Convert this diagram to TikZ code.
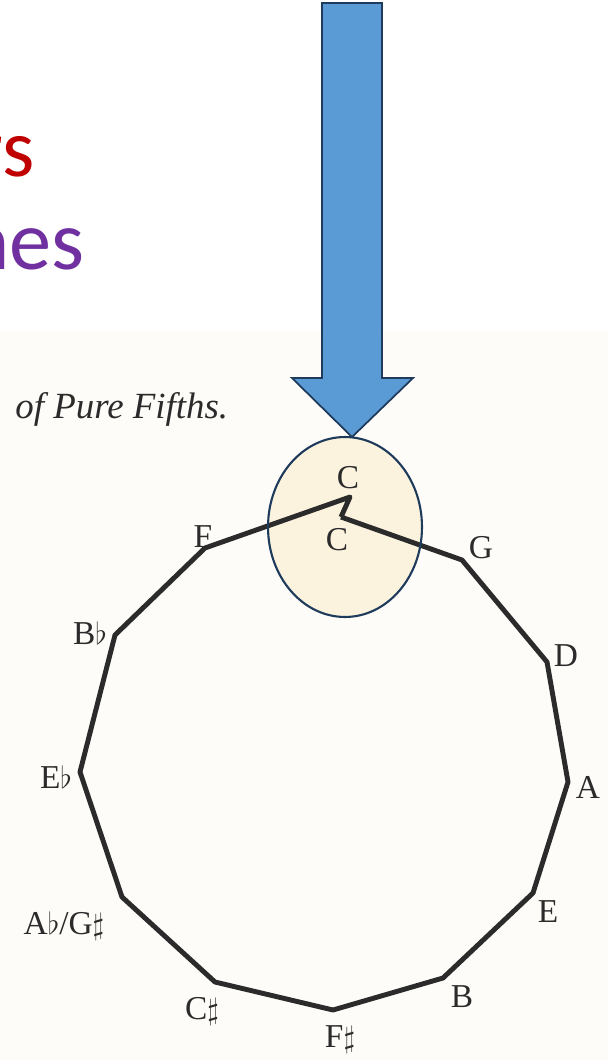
\documentclass[tikz,border=0pt]{standalone}
\usepackage{fontspec}
\setmainfont{Liberation Serif}
\newfontfamily\slidefont{Carlito}
\usetikzlibrary{shapes.geometric,positioning}

\definecolor{slidered}{HTML}{C00000}
\definecolor{slidepurple}{HTML}{7030A0}
\definecolor{arrowblue}{HTML}{5B9BD5}
\definecolor{navy}{HTML}{1F3B5C}
\definecolor{haze}{HTML}{FBF3DE}
\definecolor{scan}{HTML}{FDFCF9}
\definecolor{ink}{HTML}{2B2B2B}

\tikzset{
  note/.style={font=\fontsize{19}{22}\selectfont, text=ink, inner sep=0pt},
  fifths/.style={line width=2.8pt, draw=ink, line join=round},
}

\begin{document}
\begin{tikzpicture}[x=0.02cm, y=-0.02cm]
\clip (0,0) rectangle (608,1060);
\fill[white] (0,0) rectangle (608,1060);
% scanned page
\fill[scan] (0,330) rectangle (608,1060);

% slide headings, cut at the left edge
\node[anchor=base east, inner sep=0pt, text=slidered, font=\slidefont\fontsize{47}{54}\selectfont] (hred) at (35,177) {rs};
\node[anchor=base east, inner sep=0pt, text=slidepurple, font=\slidefont\fontsize{48}{56}\selectfont] (hpurple) at (85,270) {nes};

% caption of the book figure
\node[anchor=base west, inner sep=0pt, text=ink, font=\itshape\fontsize{21}{25}\selectfont] (caption) at (15,418) {of Pure Fifths.};

% highlight round the two C's
\node[ellipse, fill=haze, minimum width=3.08cm, minimum height=3.6cm] (halo) at (345,527) {};

% vertices of the spiral of fifths
\coordinate (vCt) at (350,497);
\coordinate (vCb) at (341,517);
\coordinate (vG) at (462,560);
\coordinate (vD) at (547,662);
\coordinate (vA) at (568,782);
\coordinate (vE) at (533,893);
\coordinate (vB) at (443,978);
\coordinate (vFs) at (333,1010);
\coordinate (vCs) at (215,982);
\coordinate (vAb) at (122,897);
\coordinate (vEb) at (80,772);
\coordinate (vBb) at (115,635);
\coordinate (vF) at (205,548);

\draw[fifths] (vCb) -- (vG) -- (vD) -- (vA) -- (vE) -- (vB) -- (vFs) -- (vCs)
  -- (vAb) -- (vEb) -- (vBb) -- (vF) -- (vCt) -- (vCb);

% note names
\node[note] (Ctop) at (348,478) {C};
\node[note] (Cbot) at (337,540) {C};
\node[note] (G) at (481,548) {G};
\node[note] (D) at (566,656) {D};
\node[note] (A) at (588,787) {A};
\node[note] (E) at (548,912) {E};
\node[note] (B) at (462,997) {B};
\node[note] (Fs) at (340,1040) {F$\sharp$};
\node[note] (Cs) at (202,1011) {C$\sharp$};
\node[note] (Ab) at (64,926) {A$\flat$/G$\sharp$};
\node[note] (Eb) at (56,777) {E$\flat$};
\node[note] (Bb) at (90,633) {B$\flat$};
\node[note] (F) at (203,537) {F};

\draw[navy, line width=1.2pt] (halo.center) ellipse [x radius=1.54cm, y radius=1.8cm];

% pointer arrow
\coordinate (tip) at (352,437);
\draw[fill=arrowblue, draw=navy, line width=1pt, line join=miter]
  (322,3) -- (382,3) -- (382,378) -- (413,378) -- (tip) -- (292,378) -- (322,378) -- cycle;
\end{tikzpicture}
\end{document}
